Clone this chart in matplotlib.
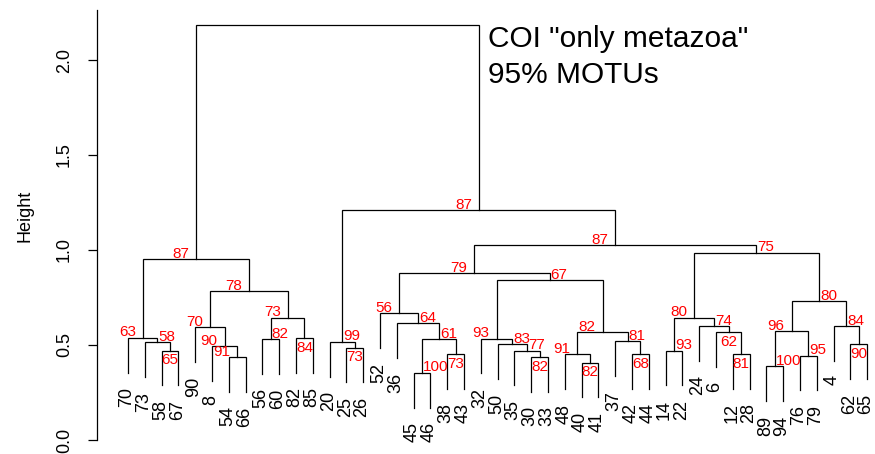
import matplotlib.pyplot as plt

plt.rcParams['font.family'] = ['Liberation Sans', 'DejaVu Sans']

# leaves in plotting order
leaf_labels = [70, 73, 58, 67, 90, 8, 54, 66, 56, 60, 82, 85, 20, 25, 26,
               52, 36, 45, 46, 38, 43, 32, 50, 35, 30, 33, 48, 40, 41, 37,
               42, 44, 14, 22, 24, 6, 12, 28, 89, 94, 76, 79, 4, 62, 65]

# hclust-style merges: negative = leaf position (1-based), positive = earlier merge row
merge_left = [-3, -2, -1, -7, -6, -5, -9, -11, 7, 6, 3,
              -14, -13, -18, -20, 14, -17, -16, -25, -24, -23, -22,
              -28, -27, -31, -30, 24, 22, 18,
              -33, -37, -36, -35, 30, -39, -41, 35, -44, -43, 37, 34, 29, 13, 11]
merge_right = [-4, 1, 2, -8, 4, 5, -10, -12, 8, 9, 10,
               -15, 12, -19, -21, 15, 16, 17, -26, 19, 20, 21,
               -29, 23, -32, 25, 26, 27, 28,
               -34, -38, 31, 32, 33, -40, -42, 36, -45, 38, 39, 40, 41, 42, 43]
merge_height = [0.470, 0.514, 0.538, 0.437, 0.495, 0.593, 0.532, 0.538, 0.644, 0.784, 0.950,
                0.486, 0.517, 0.354, 0.454, 0.532, 0.614, 0.667, 0.437, 0.470, 0.503, 0.533,
                0.407, 0.451, 0.453, 0.519, 0.568, 0.842, 0.879,
                0.470, 0.454, 0.567, 0.600, 0.644, 0.388, 0.444, 0.574, 0.503, 0.600, 0.732,
                0.986, 1.026, 1.210, 2.184]
bp_values = [65, 58, 63, 91, 90, 70, 82, 84, 73, 78, 87,
             73, 99, 100, 73, 61, 64, 56, 82, 77, 83, 93,
             82, 91, 68, 81, 82, 67, 79,
             93, 81, 62, 74, 80, 100, 95, 96, 90, 84, 80, 75, 87, 87, None]

# where the bootstrap value sits next to its node: l = left, r = right, c = below
bp_side = ['c', 'r', 'l', 'l', 'l', 'l', 'r', 'c', 'l', 'l', 'l',
           'c', 'r', 'r', 'c', 'r', 'r', 'l', 'c', 'r', 'r', 'l',
           'c', 'l', 'c', 'r', 'l', 'r', 'l',
           'r', 'c', 'c', 'r', 'l', 'r', 'r', 'l', 'c', 'r', 'r', 'r', 'l', 'l', 'l']

hang = 0.1 * (max(merge_height) - min(merge_height))
y_top = max(merge_height) + 0.04 * (max(merge_height) - min(merge_height) + hang)

fig = plt.figure(figsize=(8.75, 4.54), dpi=100)
ax = fig.add_axes([97 / 875, 0, 778 / 875, 1])
ax.set_xlim(-1.845, 44.464)
ax.set_ylim(-0.0737, 2.3158)

node_x = []
for left, right, h in zip(merge_left, merge_right, merge_height):
    ends = []
    for ref in (left, right):
        if ref < 0:
            x = -ref - 1
            y = h - hang
            ax.annotate(str(leaf_labels[x]), (x, y), xytext=(-0.8, -10.5),
                        textcoords='offset points', rotation=90,
                        ha='center', va='top', fontsize=13)
        else:
            x = node_x[ref - 1]
            y = merge_height[ref - 1]
        ends.append((x, y))
    (xl, yl), (xr, yr) = ends
    ax.plot([xl, xl, xr, xr], [yl, h, h, yr], color='black', lw=0.9,
            solid_joinstyle='miter')
    node_x.append((xl + xr) / 2)

for x, h, v, side in zip(node_x, merge_height, bp_values, bp_side):
    if v is None:
        continue
    if side == 'l':
        ax.annotate(str(v), (x, h), xytext=(-5, 1), textcoords='offset points',
                    ha='right', va='baseline', color='red', fontsize=11)
    elif side == 'r':
        ax.annotate(str(v), (x, h), xytext=(0.7, 1), textcoords='offset points',
                    ha='left', va='baseline', color='red', fontsize=11)
    else:
        ax.annotate(str(v), (x, h), xytext=(0, -2), textcoords='offset points',
                    ha='center', va='top', color='red', fontsize=11)

for s in ['top', 'right', 'bottom']:
    ax.spines[s].set_visible(False)
ax.spines['left'].set_bounds(0, y_top)
ax.spines['left'].set_linewidth(0.9)
ax.set_xticks([])
ax.set_yticks([0.0, 0.5, 1.0, 1.5, 2.0])
ax.set_yticklabels(['0.0', '0.5', '1.0', '1.5', '2.0'], rotation=90, va='center')
ax.tick_params(axis='y', length=6.8, width=0.9, pad=10.5, labelsize=13)
ax.set_ylabel('Height', fontsize=13)
ax.yaxis.set_label_coords(-0.082, 0.524)

fig.text(488 / 875, 1 - 46.7 / 454, 'COI "only metazoa"', fontsize=21.5, va='baseline')
fig.text(488 / 875, 1 - 83 / 454, '95% MOTUs', fontsize=21.5, va='baseline')

fig.savefig('out.png', dpi=100)
